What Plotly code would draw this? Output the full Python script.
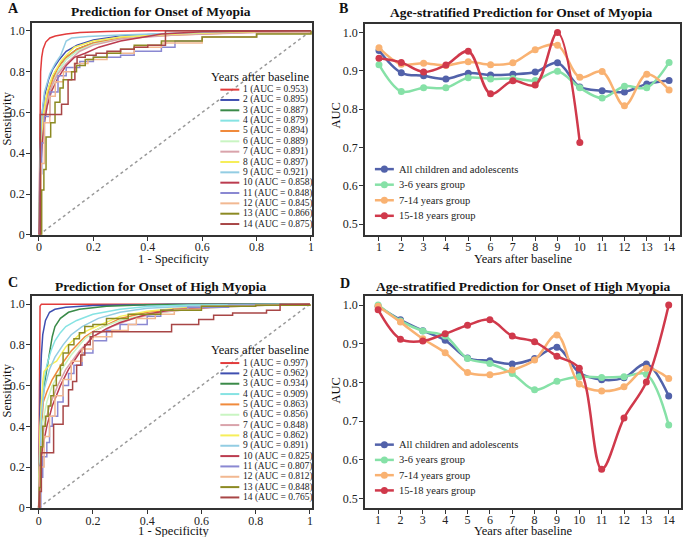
import plotly.graph_objects as go

W, H = 685, 537          # reference picture size (design coordinates)
FIG_H = 546              # rendered figure height (viewport photographed is slightly taller)
FONT = "Liberation Serif"

# ---------------- data ----------------
years = list(range(1, 15))
year_ticks = [str(y) for y in years]

roc_colors = ["#e23b3b", "#3f4fb0", "#3a8a48", "#86e3e3", "#f08a3c", "#c9f5c2",
              "#d9a3ab", "#f6ee5a", "#93cde3", "#bb3c4f", "#8a88d2", "#f2b891",
              "#8c8a22", "#a84646"]

aucA = [0.953, 0.895, 0.887, 0.879, 0.894, 0.889, 0.891, 0.897, 0.921, 0.858, 0.848, 0.845, 0.866, 0.875]
aucC = [0.997, 0.962, 0.934, 0.909, 0.863, 0.856, 0.848, 0.862, 0.891, 0.825, 0.807, 0.812, 0.848, 0.765]

# ROC curves, panel A (onset of myopia)
A1_fpr = [0, 0.002, 0.004, 0.006, 0.01, 0.015, 0.025, 0.04, 0.06, 0.1, 0.15, 0.25, 0.4, 1]
A1_tpr = [0, 0.3, 0.6, 0.8, 0.87, 0.91, 0.945, 0.965, 0.975, 0.985, 0.992, 0.997, 1, 1]
A2_fpr = [0, 0.003, 0.006, 0.01, 0.02, 0.035, 0.05, 0.075, 0.1, 0.14, 0.2, 0.3, 0.45, 0.6, 0.8, 1]
A2_tpr = [0, 0.3, 0.47, 0.58, 0.68, 0.76, 0.81, 0.86, 0.9, 0.93, 0.955, 0.975, 0.985, 0.99, 0.997, 1]
A3_fpr = [0, 0.004, 0.008, 0.015, 0.025, 0.04, 0.06, 0.08, 0.1, 0.14, 0.2, 0.3, 0.45, 0.65, 0.85, 1]
A3_tpr = [0, 0.3, 0.45, 0.57, 0.66, 0.74, 0.8, 0.84, 0.87, 0.91, 0.94, 0.965, 0.98, 0.99, 0.997, 1]
A4_fpr = [0, 0.005, 0.01, 0.02, 0.035, 0.05, 0.07, 0.1, 0.14, 0.2, 0.3, 0.45, 0.7, 1]
A4_tpr = [0, 0.3, 0.45, 0.58, 0.68, 0.74, 0.8, 0.86, 0.9, 0.94, 0.97, 0.985, 0.995, 1]
A5_fpr = [0, 0.005, 0.012, 0.02, 0.035, 0.05, 0.07, 0.1, 0.14, 0.2, 0.3, 0.5, 0.7, 1]
A5_tpr = [0, 0.35, 0.5, 0.6, 0.7, 0.76, 0.82, 0.87, 0.91, 0.94, 0.965, 0.98, 0.99, 1]
A6_fpr = [0, 0.005, 0.012, 0.025, 0.04, 0.06, 0.08, 0.1, 0.14, 0.2, 0.3, 0.45, 0.7, 1]
A6_tpr = [0, 0.32, 0.48, 0.6, 0.7, 0.77, 0.82, 0.86, 0.9, 0.935, 0.96, 0.98, 0.993, 1]
A7_fpr = [0, 0.006, 0.015, 0.03, 0.05, 0.07, 0.1, 0.15, 0.2, 0.3, 0.5, 0.75, 1]
A7_tpr = [0, 0.35, 0.55, 0.66, 0.74, 0.79, 0.84, 0.9, 0.93, 0.96, 0.98, 0.99, 1]
A8_fpr = [0, 0.005, 0.015, 0.03, 0.05, 0.08, 0.1, 0.13, 0.2, 0.3, 0.5, 0.7, 1]
A8_tpr = [0, 0.4, 0.58, 0.7, 0.78, 0.85, 0.88, 0.92, 0.95, 0.97, 0.985, 0.993, 1]
A9_fpr = [0, 0.004, 0.01, 0.02, 0.04, 0.06, 0.08, 0.09, 0.1, 0.12, 0.18, 0.3, 0.5, 0.7, 1]
A9_tpr = [0, 0.4, 0.58, 0.7, 0.79, 0.84, 0.88, 0.92, 0.95, 0.965, 0.972, 0.98, 0.99, 0.997, 1]
A10_fpr = [0, 0.005, 0.012, 0.02, 0.03, 0.045, 0.07, 0.1, 0.13, 0.17, 0.22, 0.3, 0.45, 0.6, 1]
A10_tpr = [0, 0.3, 0.45, 0.55, 0.63, 0.7, 0.77, 0.83, 0.87, 0.89, 0.92, 0.95, 0.985, 0.995, 1]
A11_fpr = [0, 0.005, 0.01, 0.02, 0.04, 0.07, 0.1, 0.15, 0.2, 0.3, 0.35, 0.45, 0.5, 0.6, 0.8, 1]
A11_tpr = [0, 0.3, 0.45, 0.58, 0.7, 0.78, 0.82, 0.85, 0.87, 0.88, 0.9, 0.92, 0.95, 0.97, 0.99, 1]
A12_fpr = [0, 0.008, 0.02, 0.04, 0.06, 0.09, 0.13, 0.18, 0.25, 0.35, 0.45, 0.6, 0.8, 1]
A12_tpr = [0, 0.35, 0.55, 0.68, 0.75, 0.8, 0.84, 0.86, 0.89, 0.92, 0.94, 0.97, 0.99, 1]
A13_fpr = [0, 0.01, 0.018, 0.026, 0.043, 0.059, 0.077, 0.089, 0.12, 0.138, 0.17, 0.2, 0.25, 0.3, 0.35, 0.45, 0.6, 0.8, 1]
A13_tpr = [0, 0.22, 0.32, 0.48, 0.55, 0.65, 0.72, 0.76, 0.8, 0.83, 0.86, 0.87, 0.89, 0.91, 0.93, 0.95, 0.97, 0.985, 1]
A14_fpr = [0, 0.005, 0.083, 0.107, 0.132, 0.14, 0.17, 0.21, 0.25, 0.3, 0.35, 0.4, 0.465, 1]
A14_tpr = [0, 0.59, 0.64, 0.76, 0.84, 0.87, 0.88, 0.89, 0.9, 0.91, 0.92, 0.93, 1.0, 1]

# ROC curves, panel C (onset of high myopia)
C1_fpr = [0, 0.002, 0.003, 0.005, 0.01, 1]
C1_tpr = [0, 0.5, 0.9, 0.99, 1, 1]
C2_fpr = [0, 0.003, 0.006, 0.01, 0.015, 0.025, 0.04, 0.06, 0.1, 0.2, 0.35, 0.5, 1]
C2_tpr = [0, 0.4, 0.6, 0.75, 0.85, 0.92, 0.96, 0.975, 0.985, 0.993, 0.998, 1, 1]
C3_fpr = [0, 0.005, 0.01, 0.02, 0.03, 0.04, 0.05, 0.06, 0.08, 0.11, 0.15, 0.25, 0.4, 0.6, 1]
C3_tpr = [0, 0.3, 0.45, 0.6, 0.68, 0.75, 0.84, 0.89, 0.93, 0.96, 0.975, 0.99, 0.997, 1, 1]
C4_fpr = [0, 0.005, 0.01, 0.02, 0.03, 0.045, 0.06, 0.08, 0.1, 0.14, 0.2, 0.3, 0.4, 0.55, 1]
C4_tpr = [0, 0.35, 0.5, 0.63, 0.7, 0.77, 0.82, 0.86, 0.89, 0.92, 0.95, 0.975, 0.988, 0.996, 1]
C5_fpr = [0, 0.005, 0.017, 0.03, 0.05, 0.082, 0.12, 0.17, 0.2, 0.3, 0.4, 0.55, 0.75, 1]
C5_tpr = [0, 0.3, 0.52, 0.57, 0.63, 0.7, 0.77, 0.84, 0.865, 0.93, 0.96, 0.98, 0.993, 1]
C6_fpr = [0, 0.005, 0.015, 0.03, 0.05, 0.08, 0.12, 0.17, 0.22, 0.3, 0.4, 0.55, 0.75, 1]
C6_tpr = [0, 0.28, 0.42, 0.52, 0.6, 0.67, 0.75, 0.83, 0.88, 0.92, 0.95, 0.975, 0.99, 1]
C7_fpr = [0, 0.006, 0.02, 0.04, 0.07, 0.1, 0.15, 0.2, 0.27, 0.35, 0.45, 0.6, 0.8, 1]
C7_tpr = [0, 0.25, 0.4, 0.5, 0.6, 0.68, 0.77, 0.84, 0.89, 0.93, 0.96, 0.98, 0.993, 1]
C8_fpr = [0, 0.005, 0.015, 0.02, 0.04, 0.066, 0.1, 0.15, 0.19, 0.3, 0.4, 0.55, 0.75, 1]
C8_tpr = [0, 0.4, 0.62, 0.67, 0.7, 0.72, 0.79, 0.85, 0.877, 0.94, 0.965, 0.985, 0.995, 1]
C9_fpr = [0, 0.005, 0.01, 0.02, 0.04, 0.06, 0.09, 0.12, 0.16, 0.22, 0.3, 0.4, 0.55, 0.75, 1]
C9_tpr = [0, 0.3, 0.45, 0.58, 0.68, 0.74, 0.8, 0.85, 0.89, 0.93, 0.96, 0.98, 0.99, 0.997, 1]
C10_fpr = [0, 0.005, 0.015, 0.03, 0.05, 0.08, 0.11, 0.15, 0.2, 0.25, 0.3, 0.4, 0.5, 0.7, 1]
C10_tpr = [0, 0.2, 0.3, 0.4, 0.5, 0.6, 0.68, 0.76, 0.84, 0.88, 0.91, 0.95, 0.975, 0.99, 1]
C11_fpr = [0, 0.008, 0.015, 0.03, 0.04, 0.05, 0.07, 0.09, 0.11, 0.13, 0.16, 0.2, 0.25, 0.3, 0.4, 0.45, 0.55, 0.7, 1]
C11_tpr = [0, 0.15, 0.25, 0.32, 0.4, 0.45, 0.52, 0.6, 0.66, 0.7, 0.76, 0.82, 0.87, 0.9, 0.94, 0.97, 0.985, 0.995, 1]
C12_fpr = [0, 0.005, 0.02, 0.04, 0.06, 0.09, 0.12, 0.16, 0.2, 0.27, 0.33, 0.36, 0.43, 0.5, 0.6, 0.8, 1]
C12_tpr = [0, 0.2, 0.35, 0.45, 0.55, 0.63, 0.72, 0.78, 0.84, 0.87, 0.9, 0.93, 0.95, 0.975, 0.99, 0.995, 1]
C13_fpr = [0, 0.003, 0.008, 0.015, 0.025, 0.035, 0.045, 0.055, 0.065, 0.08, 0.09, 0.11, 0.13, 0.15, 0.17, 0.2, 0.25, 0.33, 0.45, 0.6, 0.8, 1]
C13_tpr = [0, 0.1, 0.3, 0.4, 0.45, 0.5, 0.55, 0.6, 0.65, 0.7, 0.76, 0.8, 0.83, 0.86, 0.89, 0.9, 0.93, 0.95, 0.97, 0.99, 0.995, 1]
C14_fpr = [0, 0.004, 0.01, 0.055, 0.09, 0.11, 0.125, 0.14, 0.155, 0.17, 0.19, 0.2, 0.49, 0.59, 0.645, 0.715, 0.84, 0.89, 1]
C14_tpr = [0, 0.08, 0.27, 0.41, 0.5, 0.58, 0.62, 0.7, 0.75, 0.8, 0.84, 0.864, 0.9, 0.925, 0.945, 0.957, 0.97, 1.0, 1]

stepped_years = [11, 12, 13, 14]

# Age-stratified AUCs
group_names = ["All children and adolescents", "3-6 years group", "7-14 years group", "15-18 years group"]
group_colors = ["#5262aa", "#86e1a7", "#f9b272", "#d0394b"]

B_all = [0.953, 0.895, 0.887, 0.879, 0.894, 0.889, 0.891, 0.897, 0.921, 0.858, 0.848, 0.845, 0.866, 0.875]
B_3_6 = [0.916, 0.846, 0.856, 0.856, 0.882, 0.879, 0.880, 0.875, 0.899, 0.856, 0.829, 0.860, 0.856, 0.922]
B_7_14 = [0.960, 0.917, 0.920, 0.914, 0.924, 0.916, 0.921, 0.955, 0.967, 0.883, 0.898, 0.809, 0.891, 0.850]
B_15_18 = [0.933, 0.922, 0.897, 0.915, 0.951, 0.840, 0.874, 0.863, 1.000, 0.713]

D_all = [0.997, 0.962, 0.934, 0.909, 0.863, 0.856, 0.848, 0.862, 0.891, 0.825, 0.807, 0.812, 0.848, 0.765]
D_3_6 = [1.000, 0.959, 0.933, 0.920, 0.862, 0.849, 0.823, 0.781, 0.803, 0.815, 0.813, 0.815, 0.821, 0.690]
D_7_14 = [0.997, 0.956, 0.913, 0.877, 0.826, 0.820, 0.832, 0.858, 0.923, 0.796, 0.778, 0.789, 0.837, 0.810]
D_15_18 = [0.988, 0.912, 0.907, 0.926, 0.948, 0.962, 0.920, 0.905, 0.868, 0.837, 0.576, 0.708, 0.801, 1.000]

roc_A = [(A1_fpr, A1_tpr), (A2_fpr, A2_tpr), (A3_fpr, A3_tpr), (A4_fpr, A4_tpr), (A5_fpr, A5_tpr),
         (A6_fpr, A6_tpr), (A7_fpr, A7_tpr), (A8_fpr, A8_tpr), (A9_fpr, A9_tpr), (A10_fpr, A10_tpr),
         (A11_fpr, A11_tpr), (A12_fpr, A12_tpr), (A13_fpr, A13_tpr), (A14_fpr, A14_tpr)]
roc_C = [(C1_fpr, C1_tpr), (C2_fpr, C2_tpr), (C3_fpr, C3_tpr), (C4_fpr, C4_tpr), (C5_fpr, C5_tpr),
         (C6_fpr, C6_tpr), (C7_fpr, C7_tpr), (C8_fpr, C8_tpr), (C9_fpr, C9_tpr), (C10_fpr, C10_tpr),
         (C11_fpr, C11_tpr), (C12_fpr, C12_tpr), (C13_fpr, C13_tpr), (C14_fpr, C14_tpr)]
groups_B = [B_all, B_3_6, B_7_14, B_15_18]
groups_D = [D_all, D_3_6, D_7_14, D_15_18]

# ---------------- figure ----------------
fig = go.Figure()

def add_roc(curves, xa, ya):
    fig.add_trace(go.Scatter(x=[0, 1], y=[0, 1], mode="lines", xaxis=xa, yaxis=ya,
                             line=dict(color="#9a9a9a", width=1.5, dash="dot"), showlegend=False))
    for i, (fx, ty) in enumerate(curves):
        yr = years[i]
        fig.add_trace(go.Scatter(x=fx, y=ty, mode="lines", xaxis=xa, yaxis=ya,
                                 line=dict(color=roc_colors[i], width=1.5,
                                           shape="hv" if yr in stepped_years else "linear"),
                                 showlegend=False))

def add_groups(groups, xa, ya):
    for g, vals in enumerate(groups):
        fig.add_trace(go.Scatter(x=years[:len(vals)], y=vals, mode="lines+markers", xaxis=xa, yaxis=ya,
                                 line=dict(color=group_colors[g], width=2.5, shape="spline", smoothing=1.0),
                                 marker=dict(color=group_colors[g], size=7),
                                 showlegend=False))

add_roc(roc_A, "x", "y")
add_groups(groups_B, "x2", "y2")
add_roc(roc_C, "x3", "y3")
add_groups(groups_D, "x4", "y4")

axis_common = dict(showgrid=False, zeroline=False, showline=True, mirror=True,
                   linecolor="#333333", linewidth=1.5, ticks="outside", ticklen=4,
                   tickwidth=1, tickcolor="#333333",
                   tickfont=dict(family=FONT, size=12, color="#222222"))
x_common = dict(ticklabelstandoff=-4, **axis_common)
y_common = dict(ticklabelstandoff=-1, **axis_common)

roc_x = dict(tickvals=[0, 0.2, 0.4, 0.6, 0.8, 1], ticktext=["0", "0.2", "0.4", "0.6", "0.8", "1"])
roc_y = dict(tickvals=[0, 0.2, 0.4, 0.6, 0.8, 1], ticktext=["0", "0.2", "0.4", "0.6", "0.8", "1.0"])
auc_x = dict(tickvals=years, ticktext=year_ticks)
auc_y = dict(tickvals=[0.5, 0.6, 0.7, 0.8, 0.9, 1.0], ticktext=["0.5", "0.6", "0.7", "0.8", "0.9", "1.0"])

def px_x(p):
    return p / W

def px_y(p):
    return 1 - p / H

fig.update_layout(
    width=W, height=FIG_H, margin=dict(l=0, r=0, t=0, b=0),
    paper_bgcolor="white", plot_bgcolor="white", showlegend=False,
    font=dict(family=FONT, color="#111111"),
    xaxis=dict(domain=[px_x(32), px_x(313)], range=[-0.026, 1.004], anchor="y", **roc_x, **x_common),
    yaxis=dict(domain=[px_y(234), px_y(23)], range=[0, 1.038], anchor="x", **roc_y, **y_common),
    xaxis2=dict(domain=[px_x(366), px_x(682)], range=[0.37, 14.49], anchor="y2", **auc_x, **x_common),
    yaxis2=dict(domain=[px_y(234), px_y(24)], range=[0.472, 1.022], anchor="x2", **auc_y, **y_common),
    xaxis3=dict(domain=[px_x(32), px_x(313)], range=[-0.025, 1.008], anchor="y3", **roc_x, **x_common),
    yaxis3=dict(domain=[px_y(506.5), px_y(294.7)], range=[-0.003, 1.041], anchor="x3", **roc_y, **y_common),
    xaxis4=dict(domain=[px_x(366), px_x(683)], range=[0.41, 14.55], anchor="y4", **auc_x, **x_common),
    yaxis4=dict(domain=[px_y(506), px_y(294.7)], range=[0.476, 1.024], anchor="x4", **auc_y, **y_common),
)

annotations = []
shapes = []

def ann(text, px, py, size, xanchor="center", angle=0, color="#111111"):
    annotations.append(dict(text=text, x=px_x(px), y=px_y(py), xref="paper", yref="paper",
                            showarrow=False, xanchor=xanchor, yanchor="middle", textangle=angle,
                            font=dict(family=FONT, size=size, color=color)))

# panel letters and titles
ann("<b>A</b>", 14, 8, 14)
ann("<b>B</b>", 345, 8, 14)
ann("<b>C</b>", 13, 281, 14)
ann("<b>D</b>", 346, 282, 14)
ann("<b>Prediction for Onset of Myopia</b>", 161, 11, 13.5)
ann("<b>Age-stratified Prediction for Onset of Myopia</b>", 523, 12, 13.5)
ann("<b>Prediction for Onset of High Myopia</b>", 161, 285, 13.5)
ann("<b>Age-stratified Prediction for Onset of High Myopia</b>", 525, 285, 13.5)

# axis titles
ann("Sensitivity", 7, 118, 12.5, angle=-90)
ann("Sensitivity", 7, 389, 12.5, angle=-90)
ann("1 - Specificity", 175, 258, 12.5)
ann("1 - Specificity", 175, 529.5, 12.5)
ann("AUC", 337, 115, 12.5, angle=-90)
ann("AUC", 337, 389, 12.5, angle=-90)
ann("Years after baseline", 525, 258, 12.5)
ann("Years after baseline", 525, 529.5, 12.5)

# ROC legends (manual, compact)
def roc_legend(aucs, title_y, first_y):
    ann("Years after baseline", 260.5, title_y, 12.5)
    for i, a in enumerate(aucs):
        yy = first_y + i * 10.3
        shapes.append(dict(type="line", xref="paper", yref="paper",
                           x0=px_x(221), x1=px_x(240), y0=px_y(yy), y1=px_y(yy),
                           line=dict(color=roc_colors[i], width=2)))
        ann(f"{years[i]} (AUC = {a:.3f})", 242, yy, 9.5, xanchor="left", color="#222222")

roc_legend(aucA, 77, 89.3)
roc_legend(aucC, 348.3, 361.7)

# group legends (manual)
def group_legend(first_y, dy):
    for g, name in enumerate(group_names):
        yy = first_y + g * dy
        shapes.append(dict(type="line", xref="paper", yref="paper",
                           x0=px_x(376), x1=px_x(395), y0=px_y(yy), y1=px_y(yy),
                           line=dict(color=group_colors[g], width=2.5)))
        shapes.append(dict(type="circle", xref="paper", yref="paper",
                           x0=px_x(382), x1=px_x(389), y0=px_y(yy + 3.5), y1=px_y(yy - 3.5),
                           fillcolor=group_colors[g], line=dict(color=group_colors[g], width=0)))
        ann(name, 398, yy, 10.5, xanchor="left", color="#222222")

group_legend(168.5, 15.5)
group_legend(443, 15.2)

fig.update_layout(annotations=annotations, shapes=shapes)

page_fix = (
    "document.documentElement.style.margin='0';"
    "document.documentElement.style.padding='0';"
    "document.documentElement.style.overflow='hidden';"
    "document.body.style.margin='0';"
    "document.body.style.padding='0';"
    "document.body.style.overflow='hidden';"
    "var gd=document.getElementById('{plot_id}');"
    "gd.style.position='fixed';gd.style.left='0px';gd.style.top='0px';"
)

fig.write_html("out.html", config={"displayModeBar": False}, post_script=page_fix)
